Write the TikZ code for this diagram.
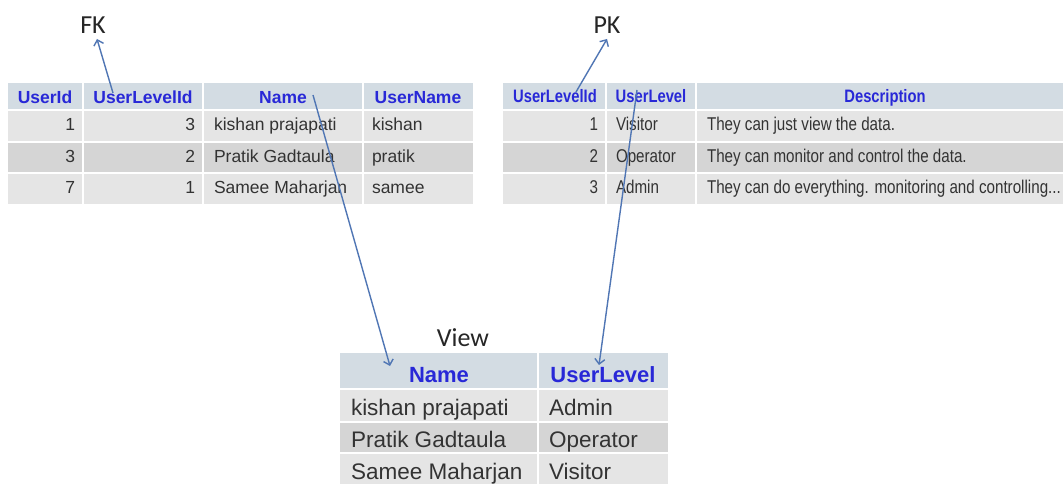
\documentclass[tikz,border=0pt]{standalone}
\usepackage{fontspec}
\setmainfont{Liberation Sans}
\newfontfamily\narrowfont[FakeStretch=0.82]{Liberation Sans}
\newfontfamily\labelfont{Carlito}
\usetikzlibrary{arrows.meta}
\definecolor{hdrbg}{HTML}{D3DCE3}
\definecolor{oddbg}{HTML}{E5E5E5}
\definecolor{evenbg}{HTML}{D5D5D5}
\definecolor{hdrtext}{RGB}{40,40,215}
\definecolor{celltext}{HTML}{333333}
\definecolor{linkline}{RGB}{80,118,180}
\begin{document}
\begin{tikzpicture}[x=1pt,y=-1pt,
  every node/.style={inner sep=0pt,outer sep=0pt},
  hdrA/.style={font=\bfseries\fontsize{17.5}{20}\selectfont,text=hdrtext,anchor=base},
  cellA/.style={font=\fontsize{17.5}{20}\selectfont,text=celltext},
  hdrB/.style={font=\narrowfont\bfseries\fontsize{18}{20}\selectfont,text=hdrtext,anchor=base},
  cellB/.style={font=\narrowfont\fontsize{18.5}{20}\selectfont,text=celltext},
  hdrV/.style={font=\bfseries\fontsize{22}{24}\selectfont,text=hdrtext,anchor=base},
  cellV/.style={font=\fontsize{22.5}{24}\selectfont,text=celltext,anchor=base west},
  tag/.style={font=\labelfont\fontsize{26}{28}\selectfont,text=black!85},
  sep/.style={white,line width=2pt},
  link/.style={linkline,line width=1.4pt,-{Straight Barb[length=5pt,width=10pt]}}
]
\useasboundingbox (0,0) rectangle (1063,486);
\fill[white] (0,0) rectangle (1063,486);

% ---------------- users table ----------------
\fill[hdrbg]  (8,83)  rectangle (473,110);
\fill[oddbg]  (8,110) rectangle (473,142);
\fill[evenbg] (8,142) rectangle (473,173);
\fill[oddbg]  (8,173) rectangle (473,204);
\foreach \x in {83,203,363} \draw[sep] (\x,83) -- (\x,204);
\foreach \y in {110,142,173} \draw[sep] (8,\y) -- (473,\y);

\node[hdrA] (uId)    at (45,104)  {UserId};
\node[hdrA] (uLvlId) at (143,104) {UserLevelId};
\node[hdrA] (uName)  at (283,104) {Name};
\node[hdrA] (uUser)  at (418,104) {UserName};

\node[cellA,anchor=base east] (u1a) at (75,131)  {1};
\node[cellA,anchor=base east] (u1b) at (195,131) {3};
\node[cellA,anchor=base west] (u1c) at (214,131) {kishan prajapati};
\node[cellA,anchor=base west] (u1d) at (372,131) {kishan};
\node[cellA,anchor=base east] (u2a) at (75,163)  {3};
\node[cellA,anchor=base east] (u2b) at (195,163) {2};
\node[cellA,anchor=base west] (u2c) at (214,163) {Pratik Gadtaula};
\node[cellA,anchor=base west] (u2d) at (372,163) {pratik};
\node[cellA,anchor=base east] (u3a) at (75,194)  {7};
\node[cellA,anchor=base east] (u3b) at (195,194) {1};
\node[cellA,anchor=base west] (u3c) at (214,194) {Samee Maharjan};
\node[cellA,anchor=base west] (u3d) at (372,194) {samee};

% ---------------- user levels table ----------------
\fill[hdrbg]  (503,83)  rectangle (1063,110);
\fill[oddbg]  (503,110) rectangle (1063,142);
\fill[evenbg] (503,142) rectangle (1063,173);
\fill[oddbg]  (503,173) rectangle (1063,204);
\foreach \x in {606,696} \draw[sep] (\x,83) -- (\x,204);
\foreach \y in {110,142,173} \draw[sep] (503,\y) -- (1063,\y);

\node[hdrB] (lId)   at (555,103) {UserLevelId};
\node[hdrB] (lLvl)  at (651,103) {UserLevel};
\node[hdrB] (lDesc) at (885,103) {Description};

\node[cellB,anchor=base east] (l1a) at (598,131) {1};
\node[cellB,anchor=base west] (l1b) at (616,131) {Visitor};
\node[cellB,anchor=base west] (l1c) at (707,131) {They can just view the data.};
\node[cellB,anchor=base east] (l2a) at (598,163) {2};
\node[cellB,anchor=base west] (l2b) at (616,163) {Operator};
\node[cellB,anchor=base west] (l2c) at (707,163) {They can monitor and control the data.};
\node[cellB,anchor=base east] (l3a) at (598,194) {3};
\node[cellB,anchor=base west] (l3b) at (616,194) {Admin};
\node[cellB,anchor=base west] (l3c) at (707,194) {They can do everything. monitoring and controlling...};

% ---------------- view ----------------
\fill[hdrbg]  (340,353) rectangle (668,389);
\fill[oddbg]  (340,389) rectangle (668,422);
\fill[evenbg] (340,422) rectangle (668,453);
\fill[oddbg]  (340,453) rectangle (668,484);
\draw[sep] (538,353) -- (538,484);
\foreach \y in {389,422,453} \draw[sep] (340,\y) -- (668,\y);

\node[hdrV] (vName) at (439,382) {Name};
\node[hdrV] (vLvl)  at (603,382) {UserLevel};
\node[cellV] (v1a) at (351,415) {kishan prajapati};
\node[cellV] (v1b) at (549,415) {Admin};
\node[cellV] (v2a) at (351,447) {Pratik Gadtaula};
\node[cellV] (v2b) at (549,447) {Operator};
\node[cellV] (v3a) at (351,479) {Samee Maharjan};
\node[cellV] (v3b) at (549,479) {Visitor};

% ---------------- labels ----------------
\node[tag] (fk)   at (93,25)  {FK};
\node[tag] (pk)   at (607,25) {PK};
\node[tag] (view) at (463,338) {View};

% ---------------- connectors ----------------
\coordinate (fkFrom) at (113,93);
\coordinate (fkTo)   at (97,39);
\coordinate (pkFrom) at (576,92);
\coordinate (pkTo)   at (607,39);
\coordinate (nameFrom) at (313,95);
\coordinate (nameTo)   at (390,366);
\coordinate (lvlFrom)  at (637,90);
\coordinate (lvlTo)    at (599,365);
\draw[link] (fkFrom) -- (fkTo);
\draw[link] (pkFrom) -- (pkTo);
\draw[link] (nameFrom) -- (nameTo);
\draw[link] (lvlFrom) -- (lvlTo);
\end{tikzpicture}
\end{document}
